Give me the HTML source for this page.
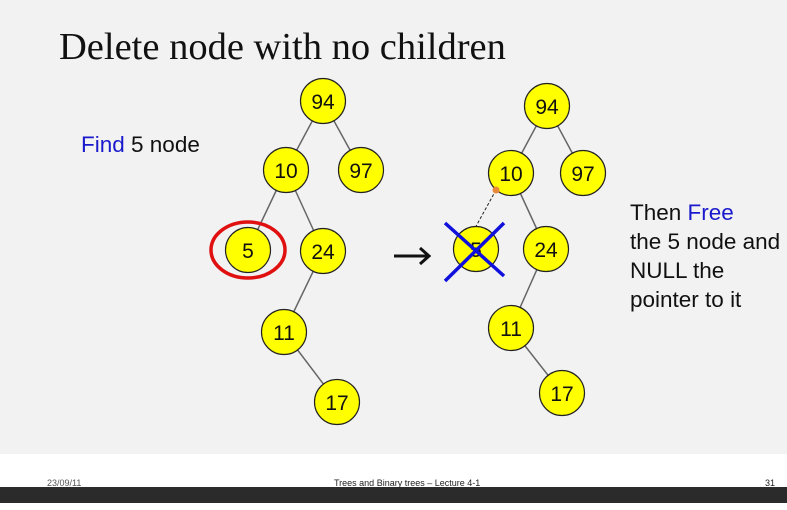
<!DOCTYPE html>
<html><head><style>
body{margin:0;width:787px;height:510px;overflow:hidden;background:#fff;position:relative;font-family:"Liberation Sans",sans-serif}
.bg{position:absolute;left:0;top:0;width:787px;height:454px;background:#f2f2f2}
.bar{position:absolute;left:0;top:487px;width:787px;height:16px;background:#2b2b2b}
.t{position:absolute;white-space:nowrap}
</style></head><body>
<div class="bg"></div>
<div class="bar"></div>
<div class="t" style="left:59px;top:25px;font-family:'Liberation Serif',serif;font-size:38.5px;color:#111">Delete node with no children</div>
<div class="t" style="left:81px;top:132px;font-size:22.5px;color:#111"><span style="color:#1a1acc">Find</span> 5 node</div>
<div class="t" style="left:630px;top:198px;font-size:22.5px;color:#111;line-height:29px">Then <span style="color:#1a1acc">Free</span><br>the 5 node and<br>NULL the<br>pointer to it</div>
<div class="t" style="left:47px;top:478px;font-size:9px;color:#555">23/09/11</div>
<div class="t" style="left:334px;top:478px;font-size:9px;color:#222">Trees and Binary trees – Lecture 4-1</div>
<div class="t" style="left:765px;top:478px;font-size:9px;color:#222">31</div>
<svg width="787" height="510" style="position:absolute;left:0;top:0" font-family="Liberation Sans, sans-serif" font-size="21" text-anchor="middle">
<g stroke="#666" stroke-width="1.5">
<line x1="323" y1="101" x2="286" y2="170"/><line x1="323" y1="101" x2="361" y2="170"/>
<line x1="286" y1="170" x2="248" y2="250"/><line x1="286" y1="170" x2="323" y2="251"/>
<line x1="323" y1="251" x2="284" y2="332"/><line x1="284" y1="332" x2="337" y2="402"/>
<line x1="547" y1="106" x2="511" y2="173"/><line x1="547" y1="106" x2="583" y2="173"/>
<line x1="511" y1="173" x2="546" y2="249"/>
<line x1="546" y1="249" x2="511" y2="328"/><line x1="511" y1="328" x2="562" y2="393"/>
</g>
<line x1="496" y1="190" x2="474" y2="230" stroke="#222" stroke-width="1" stroke-dasharray="3,2"/>
<g stroke="#222" stroke-width="1.2" fill="#ffff00">
<circle cx="323" cy="101" r="22.5"/><circle cx="286" cy="170" r="22.5"/><circle cx="361" cy="170" r="22.5"/>
<circle cx="248" cy="250" r="22.5"/><circle cx="323" cy="251" r="22.5"/><circle cx="284" cy="332" r="22.5"/><circle cx="337" cy="402" r="22.5"/>
<circle cx="547" cy="106" r="22.5"/><circle cx="511" cy="173" r="22.5"/><circle cx="583" cy="173" r="22.5"/>
<circle cx="476" cy="249" r="22.5"/><circle cx="546" cy="249" r="22.5"/><circle cx="511" cy="328" r="22.5"/><circle cx="562" cy="393" r="22.5"/>
</g>
<circle cx="496" cy="190" r="3.5" fill="#e8883a"/>
<ellipse cx="248" cy="250" rx="37" ry="28" fill="none" stroke="#e01010" stroke-width="3.5"/>
<g fill="#111">
<text x="323" y="109">94</text><text x="286" y="178">10</text><text x="361" y="178">97</text>
<text x="248" y="258">5</text><text x="323" y="259">24</text><text x="284" y="340">11</text><text x="337" y="410">17</text>
<text x="547" y="114">94</text><text x="511" y="181">10</text><text x="583" y="181">97</text>
<text x="476" y="257">5</text><text x="546" y="257">24</text><text x="511" y="336">11</text><text x="562" y="401">17</text>
</g>
<g stroke="#1010dd" stroke-width="3.5">
<line x1="445" y1="223" x2="504" y2="276"/><line x1="504" y1="223" x2="445" y2="281"/>
</g>
<g stroke="#111" stroke-width="3" fill="none">
<line x1="394" y1="256" x2="428" y2="256"/><polyline points="420,248 429,256 420,264"/>
</g>
</svg>
</body></html>
